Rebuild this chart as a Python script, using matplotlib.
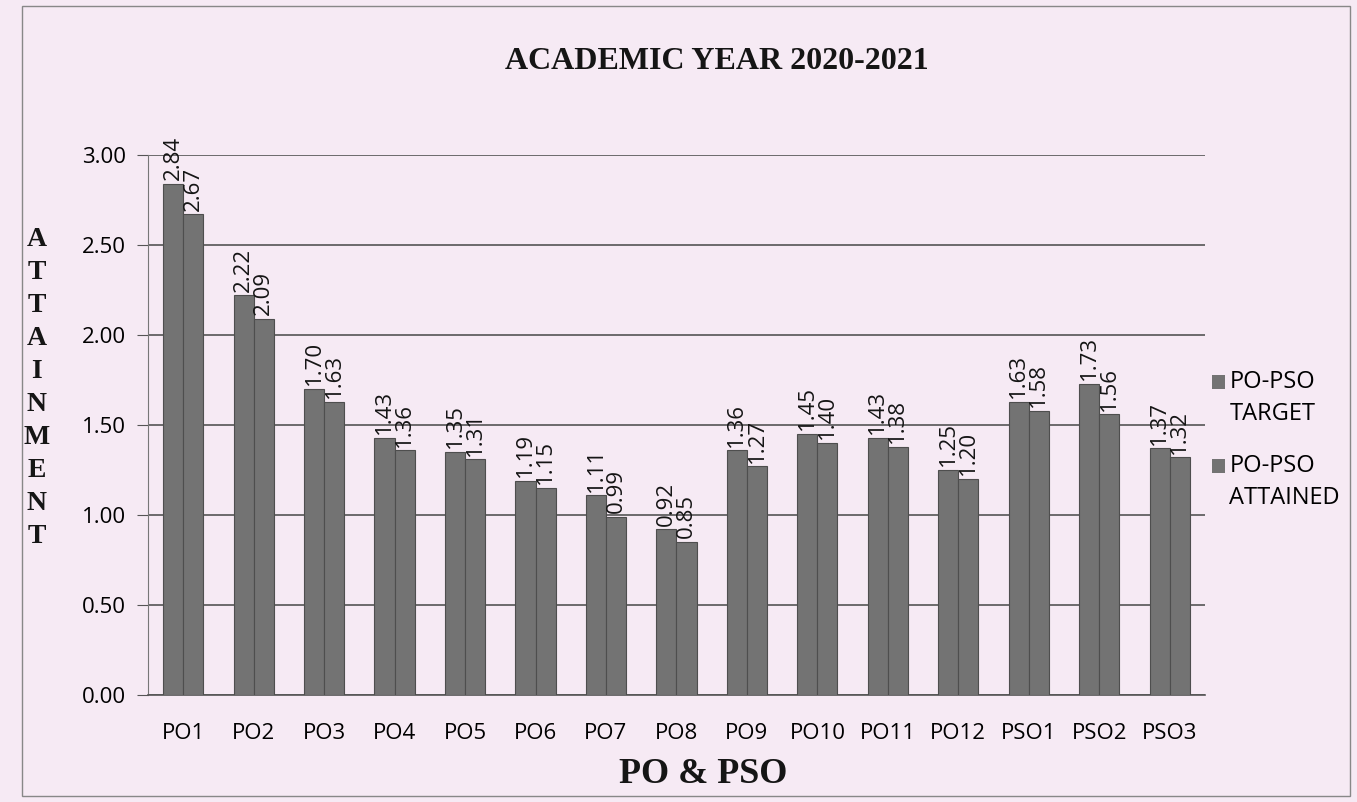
import numpy as np
import matplotlib.pyplot as plt
from matplotlib.patches import Rectangle

# data
categories = ['PO1', 'PO2', 'PO3', 'PO4', 'PO5', 'PO6', 'PO7', 'PO8',
              'PO9', 'PO10', 'PO11', 'PO12', 'PSO1', 'PSO2', 'PSO3']
target = [2.84, 2.22, 1.70, 1.43, 1.35, 1.19, 1.11, 0.92,
          1.36, 1.45, 1.43, 1.25, 1.63, 1.73, 1.37]
attained = [2.67, 2.09, 1.63, 1.36, 1.31, 1.15, 0.99, 0.85,
            1.27, 1.40, 1.38, 1.20, 1.58, 1.56, 1.32]
series_names = [('PO-PSO', 'TARGET'), ('PO-PSO', 'ATTAINED')]

bg = '#f6eaf4'
bar_color = '#737373'
edge = '#4e4e4e'
sans = ['Open Sans', 'DejaVu Sans']
serif = ['Liberation Serif', 'DejaVu Serif']

fig = plt.figure(figsize=(13.57, 8.02), dpi=100, facecolor=bg)
ax = fig.add_axes([0.109, 0.1334, 0.779, 0.6733])
ax.set_facecolor(bg)

x = np.arange(len(categories))
w = 0.285
b1 = ax.bar(x - w / 2, target, w, color=bar_color, edgecolor=edge, linewidth=0.8, zorder=3)
b2 = ax.bar(x + w / 2, attained, w, color=bar_color, edgecolor=edge, linewidth=0.8, zorder=3)

for bars, vals in ((b1, target), (b2, attained)):
    for r, v in zip(bars, vals):
        ax.text(r.get_x() + r.get_width() / 2, v + 0.02, f'{v:.2f}', rotation=90,
                ha='center', va='bottom', fontsize=16, family=sans, color='#151515',
                clip_on=False, zorder=4)

yt = np.arange(0, 3.01, 0.5)
ax.set_xlim(-0.5, len(categories) - 0.5)
ax.set_ylim(0, 3.0)
ax.set_yticks(yt)
ax.set_yticklabels([f'{t:.2f}' for t in yt], family=sans, fontsize=16)
ax.set_xticks(x)
ax.set_xticklabels(categories, family=sans, fontsize=16)
ax.tick_params(axis='x', length=0, pad=20)
ax.tick_params(axis='y', length=8, color='#555555', pad=8)
ax.yaxis.grid(True, color='#555555', linewidth=1.2, zorder=1)
for s in ['top', 'right']:
    ax.spines[s].set_visible(False)
ax.spines['left'].set_color('#777777')
ax.spines['bottom'].set_color('#555555')
ax.spines['bottom'].set_linewidth(1.2)

fig.text(0.528, 0.923, 'ACADEMIC YEAR 2020-2021', ha='center', va='center',
         family=serif, fontweight='bold', fontsize=23, color='#151515')
fig.text(0.518, 0.034, 'PO & PSO', ha='center', va='center',
         family=serif, fontweight='bold', fontsize=26, color='#151515')
fig.text(0.027, 0.516, '\n'.join('ATTAINMENT'), ha='center', va='center',
         family=serif, fontweight='bold', fontsize=20, linespacing=1.42, color='#151515')

# legend
for i, (l1, l2) in enumerate(series_names):
    yy = 1 - (382 + i * 84) / 802
    fig.patches.append(Rectangle((0.893, yy - 0.009), 0.0096, 0.018, transform=fig.transFigure,
                                 facecolor=bar_color, edgecolor='none'))
    fig.text(0.906, yy, l1, ha='left', va='center', family=sans, fontsize=17)
    fig.text(0.906, yy - 0.04, l2, ha='left', va='center', family=sans, fontsize=17)

# outer border
fig.patches.append(Rectangle((0.016, 0.008), 0.979, 0.985, transform=fig.transFigure,
                             fill=False, edgecolor='#888888', linewidth=1))

fig.savefig('out.png', dpi=100, facecolor=bg)
